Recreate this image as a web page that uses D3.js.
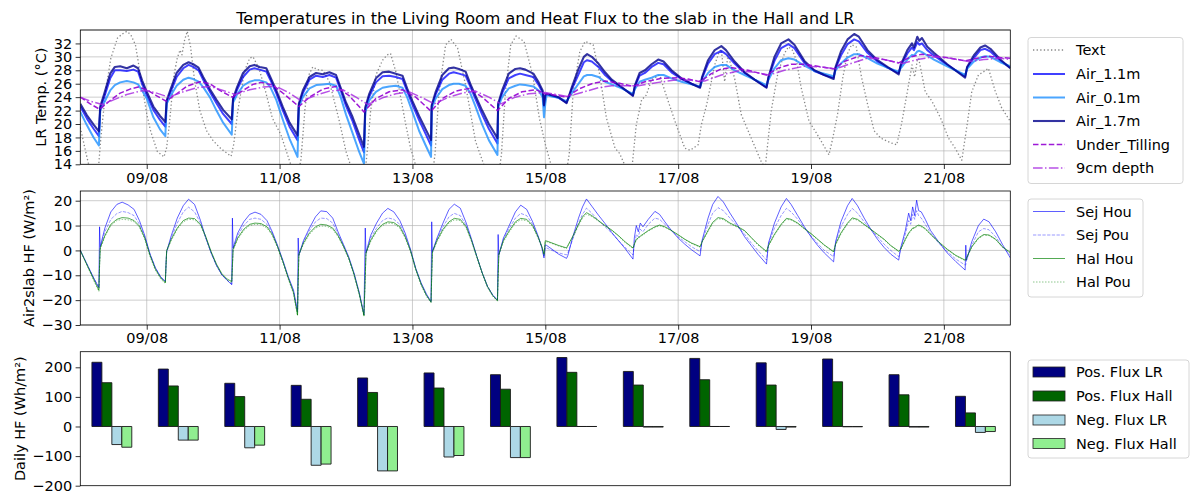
<!DOCTYPE html>
<html><head><meta charset="utf-8">
<script src="https://cdn.jsdelivr.net/npm/d3@7"></script>
<style>body{margin:0;background:#fff} svg text{font-family:"DejaVu Sans",sans-serif;fill:#000}</style>
</head><body><svg id="c" width="1191" height="493"></svg>
<script>
// ---------- DATA (time in days since 08/08 00:00) ----------
const xTickLabels = ["09/08","11/08","13/08","15/08","17/08","19/08","21/08"];
const tempTicks = [14,16,18,20,22,24,26,28,30,32];
const hfTicks = [-30,-20,-10,0,10,20];
const dailyTicks = [-200,-100,0,100,200];

const airT = [0,0.1,0.2,0.28,0.3,0.36,0.45,0.52,0.6,0.7,0.8,0.87,0.93,1,1.1,1.2,1.28,
1.3,1.36,1.45,1.55,1.63,1.7,1.78,1.85,1.95,2.05,2.15,2.28,
2.3,2.36,2.45,2.55,2.62,2.7,2.8,2.86,2.95,3.05,3.15,3.27,
3.29,3.35,3.45,3.55,3.65,3.75,3.85,3.92,4,4.1,4.2,4.27,
4.29,4.35,4.45,4.55,4.65,4.75,4.85,4.92,5,5.1,5.2,5.28,
5.29,5.35,5.45,5.55,5.62,5.7,5.8,5.87,5.95,6.05,6.15,6.28,
6.29,6.35,6.45,6.55,6.62,6.7,6.82,6.9,6.96,6.98,7,7.02,7.1,7.2,7.32,
7.4,7.5,7.58,7.63,7.7,7.8,7.9,8,8.15,8.32,
8.35,8.42,8.5,8.6,8.7,8.78,8.9,9.05,9.2,9.33,
9.36,9.45,9.55,9.65,9.72,9.85,10,10.15,10.33,
10.36,10.45,10.55,10.66,10.75,10.9,11.05,11.2,11.34,
11.37,11.45,11.55,11.65,11.72,11.85,12,12.15,12.32,
12.35,12.45,12.52,12.55,12.6,12.63,12.67,12.75,12.85,13.05,13.32,
13.35,13.45,13.55,13.62,13.7,13.85,14];
const air17 = [23.0,21.3,19.9,18.9,22.6,24.5,27.5,28.5,28.6,28.3,28.7,28.3,26.5,24.8,22.6,21.2,20.3,
23.5,25.2,27.6,28.8,29.2,28.9,28.4,27.0,25.2,23.6,22.1,20.7,
23.8,25.5,27.6,28.6,28.8,28.5,28.3,27.0,25.0,22.5,20.2,18.3,
23.0,25.0,27.0,27.6,27.4,27.7,27.3,25.4,23.2,21.0,18.4,16.6,
22.5,24.5,26.8,27.7,27.8,27.5,27.2,25.3,23.4,21.2,19.2,17.6,
22.8,24.8,27.3,28.3,28.4,28.2,27.8,26.0,24.2,22.0,20.0,17.9,
23.0,25.0,27.5,28.2,28.3,28.1,27.5,26.2,25.0,22.8,24.3,24.5,24.3,24.0,23.1,
25.5,28.2,30.0,30.4,30.0,29.0,27.7,26.6,25.5,24.2,
25.8,27.6,28.0,28.9,29.6,29.3,28.0,26.8,26.0,25.4,
27.0,29.5,31.0,31.6,31.0,29.3,27.7,26.6,25.4,
27.0,30.0,32.0,32.6,31.8,29.4,28.0,27.3,26.7,
28.5,30.8,32.6,33.4,33.0,31.0,29.5,28.5,27.4,
28.8,31.0,32.0,31.4,33.0,32.4,32.8,31.5,30.6,28.9,26.9,
28.5,30.2,31.4,31.7,31.2,29.6,28.3];
const air11 = [22.6,20.8,19.3,18.2,22.3,24.0,26.8,28.0,28.0,27.9,28.1,27.8,26.0,24.3,22.1,20.6,19.6,
23.3,24.8,27.0,28.3,28.8,28.5,28.0,26.6,24.8,23.1,21.5,20.0,
23.6,25.1,27.0,28.1,28.3,28.1,27.8,26.6,24.6,22.0,19.6,17.6,
22.8,24.6,26.6,27.2,27.0,27.3,26.9,25.0,22.7,20.4,17.6,15.8,
22.2,24.1,26.2,27.1,27.2,27.0,26.7,24.9,22.9,20.6,18.5,16.8,
22.6,24.4,26.6,27.5,27.7,27.5,27.2,25.6,23.7,21.4,19.3,17.1,
22.8,24.6,26.8,27.3,27.5,27.3,27.0,25.8,24.7,22.6,24.2,24.4,24.2,23.9,23.2,
25.2,27.4,29.2,29.5,29.3,28.5,27.3,26.4,25.4,24.3,
25.6,27.2,27.6,28.5,29.1,28.9,27.7,26.7,26.0,25.5,
26.8,29.0,30.4,30.9,30.4,29.0,27.6,26.6,25.5,
26.9,29.4,31.3,31.9,31.3,29.1,27.9,27.3,26.9,
28.3,30.2,31.9,32.6,32.3,30.6,29.3,28.4,27.6,
28.6,30.5,31.4,31.0,32.2,31.8,32.0,31.0,30.2,28.8,27.1,
28.4,29.8,31.0,31.2,30.8,29.4,28.4];
const air01 = [21.8,19.8,18.0,16.8,22.0,23.2,25.0,25.8,26.2,26.4,26.2,25.9,25.0,23.8,21.0,19.2,18.2,
23.0,24.2,25.7,26.6,26.9,26.7,26.3,25.5,24.0,22.0,20.2,18.4,
23.2,24.4,25.7,26.3,26.5,26.5,26.2,25.5,23.6,20.6,17.8,15.1,
22.5,24.0,25.3,25.8,25.9,26.0,25.7,24.0,21.4,18.6,15.8,14.1,
21.8,23.5,24.8,25.4,25.6,25.7,25.4,24.0,21.8,19.0,16.8,15.1,
22.3,23.8,25.2,25.8,26.0,26.0,25.7,24.6,22.6,19.9,17.6,15.4,
22.5,24.0,25.3,25.7,25.9,25.8,25.6,25.0,24.0,21.0,23.0,24.3,24.1,23.9,23.4,
24.6,26.0,27.1,27.3,27.3,27.0,26.3,25.9,25.3,24.5,
25.2,26.3,26.6,26.9,27.3,27.3,26.8,26.3,25.9,25.6,
26.3,27.6,28.5,28.8,28.8,28.0,27.3,26.6,25.8,
26.6,28.3,29.5,29.8,29.6,28.7,27.9,27.5,27.1,
28.0,29.0,29.9,30.4,30.4,29.8,29.0,28.4,27.8,
28.3,29.6,30.3,30.2,30.8,30.9,30.7,30.2,29.6,28.6,27.3,
28.2,29.3,29.9,30.1,30.0,29.2,28.6];

const textT = [0,0.06,0.12,0.2,0.27,0.31,0.38,0.46,0.56,0.63,0.7,0.76,0.83,0.93,1,1.06,1.16,1.26,1.3,1.34,
1.41,1.46,1.5,1.53,1.57,1.61,1.66,1.72,1.8,1.9,2,2.12,2.27,2.31,2.37,2.47,2.55,2.6,2.69,2.79,
2.89,3.02,3.12,3.2,3.27,3.32,3.38,3.44,3.5,3.57,3.65,3.75,3.9,4,4.08,4.2,4.28,4.33,4.37,4.45,
4.55,4.62,4.67,4.75,4.9,4.97,5.05,5.2,5.3,5.34,5.4,5.5,5.58,5.68,5.8,5.95,6.08,6.2,6.3,6.34,
6.4,6.48,6.56,6.68,6.81,6.91,7,7.09,7.2,7.32,7.36,7.42,7.52,7.6,7.72,7.82,7.92,8.05,8.12,8.2,
8.3,8.37,8.45,8.52,8.6,8.72,8.85,8.97,9.1,9.18,9.3,9.35,9.43,9.55,9.62,9.65,9.7,9.75,9.85,9.95,
10.1,10.25,10.31,10.4,10.5,10.6,10.66,10.72,10.78,10.85,10.97,11.06,11.15,11.27,11.33,11.4,11.48,11.55,11.61,11.68,
11.76,11.85,11.95,12.05,12.2,12.29,12.36,12.45,12.52,12.56,12.6,12.62,12.67,12.72,12.82,12.95,13.07,13.17,13.27,13.35,
13.42,13.52,13.6,13.67,13.77,13.87,14];
const textV = [19.5,16.8,14.2,12,13,18,24.8,29.8,32.8,33.4,33.8,33.3,31.8,25.8,21.5,18.9,15.9,15.1,16.5,19.9,
27.3,29.8,31,30.3,32.5,33.8,31.5,26.5,22,19,17.5,16.3,15.2,17,21.9,27.8,29.8,30,28.3,24.8,
20.9,18.4,15.4,13,12.5,14.5,22,27.3,28.5,28.1,28,26.3,20.4,15.9,13.5,11.5,12,17,21.9,27.3,
29.5,30.3,30.5,27.8,19.9,16.5,13.8,11.5,12.5,15.5,24.8,31.8,32.6,31.3,25.8,17.4,13.8,11.8,12.5,15.5,
24.8,31.8,33.1,32.3,27.3,20.9,17,13.8,12,13,15.5,24.8,30.8,32.3,31.8,27.3,20.9,16.4,15.6,13.8,
13,19.9,23.6,24.3,26.6,27.3,23.4,19.9,16.4,16.1,16.9,19.9,22.9,28.8,30.8,31.1,26.3,30.3,26.8,21.4,
17.9,14.4,13.5,21.9,27.5,30.5,31.5,31,29.5,25.5,20.4,19,17.5,15.4,18,21.5,27,30.5,31.8,31.5,
27,23,19,17.9,17.2,16.9,19.9,24.8,28.8,27,29.5,29.8,27.3,24.8,23.4,20.9,17.9,16.4,14.6,19.9,
24.8,27.3,27.8,28.3,25,22.4,20.4];

const utT = [0,0.15,0.29,0.45,0.6,0.75,0.87,1,1.15,1.29,1.45,1.6,1.8,1.95,2.1,2.29,2.45,2.6,2.72,2.9,
3.1,3.29,3.45,3.65,3.85,4.05,4.27,4.45,4.65,4.85,5.05,5.28,5.45,5.65,5.85,6.05,6.28,6.45,6.65,6.86,
7,7.15,7.32,7.5,7.7,7.9,8.1,8.32,8.5,8.75,9,9.15,9.33,9.5,9.65,9.8,10.05,10.33,10.5,10.7,
10.9,11.1,11.34,11.5,11.75,11.95,12.15,12.32,12.5,12.67,12.9,13.1,13.32,13.5,13.67,13.85,14];
const utV = [24,23,22.2,23.5,24.6,25.2,25.5,25.1,24.2,23.4,24.5,25.6,26.3,26,25,24,25,25.9,26.2,25.8,
24.2,22.6,24,25.2,25.6,24.2,21.8,23.8,24.8,25.1,24,21.9,23.8,24.9,25.3,24,22,23.8,24.8,25.1,
24.5,24.3,24,25.2,26,26.4,26.1,25.6,26.3,26.8,26.9,26.7,26.3,27.5,28.2,28.4,28,27.3,28.3,28.9,
28.9,28.6,28.2,29.3,30.2,29.9,29.5,29.1,30,30.4,30.1,29.8,29.4,29.8,30.1,29.9,29.8];

const d9T = [0,0.15,0.33,0.5,0.7,0.9,1,1.15,1.33,1.55,1.75,1.95,2.15,2.33,2.55,2.75,2.95,3.15,3.33,3.55,
3.75,3.95,4.15,4.33,4.55,4.75,4.95,5.15,5.33,5.55,5.75,5.95,6.15,6.33,6.55,6.75,7,7.33,7.55,7.8,
8,8.2,8.4,8.7,9,9.2,9.4,9.65,9.9,10.15,10.37,10.6,10.9,11.15,11.37,11.6,11.85,12.1,12.37,12.6,
12.85,13.1,13.37,13.6,13.85,14];
const d9V = [24,23.4,22.9,23.6,24.4,24.9,25,24.6,24,24.8,25.4,25.6,25,24.4,25.1,25.5,25.6,24.6,23.4,24.3,
24.9,25.1,24,22.9,23.9,24.5,24.8,23.9,23,24,24.6,24.9,24,23,24,24.5,24.7,24.1,24.7,25.4,
25.7,25.7,25.7,26.2,26.6,26.5,26.4,27.3,27.9,27.7,27.3,28,28.6,28.5,28.2,29,29.8,29.6,29,29.6,
30,29.8,29.3,29.6,29.8,29.6];

const hfT = [0,0.1,0.2,0.28,
0.29,0.3,0.37,0.46,0.55,0.63,0.72,0.81,0.89,0.97,1.05,1.13,1.21,1.28,
1.29,1.3,1.37,1.46,1.55,1.63,1.72,1.81,1.89,1.97,2.05,2.13,2.21,2.28,
2.29,2.3,2.37,2.46,2.55,2.63,2.72,2.81,2.89,2.97,3.05,3.13,3.21,3.27,
3.28,3.29,3.36,3.45,3.54,3.62,3.71,3.8,3.88,3.96,4.04,4.12,4.2,4.27,
4.29,4.3,4.37,4.46,4.55,4.63,4.72,4.81,4.89,4.97,5.05,5.13,5.21,5.28,
5.29,5.3,5.37,5.46,5.55,5.63,5.72,5.81,5.89,5.97,6.05,6.13,6.21,6.28,
6.29,6.3,6.37,6.46,6.55,6.63,6.72,6.81,6.89,6.95,6.98,7,7.02,
7.1,7.2,7.32,7.34,7.42,7.5,7.56,7.62,7.7,7.8,7.9,8,8.1,8.2,8.32,
8.34,8.37,8.4,8.43,8.47,8.55,8.65,8.72,8.8,8.9,9,9.1,9.2,9.33,
9.36,9.45,9.52,9.6,9.68,9.78,9.9,10,10.1,10.2,10.33,
10.36,10.45,10.55,10.63,10.7,10.8,10.9,11,11.1,11.2,11.34,
11.37,11.45,11.55,11.62,11.7,11.8,11.9,12,12.1,12.2,12.32,
12.35,12.42,12.47,12.5,12.53,12.56,12.59,12.62,12.66,12.72,12.8,12.92,13.05,13.18,13.32,
13.33,13.34,13.42,13.52,13.6,13.68,13.78,13.88,14];
const sejHou = [0,-5.5,-11,-15,
9.5,1.5,9,15.5,18.5,19.4,18.3,16.5,12,6,-1.5,-7,-10.6,-12.5,
-6,-0.5,6,13,18,20.6,18.5,12,5,-1,-6,-9.8,-12,-13.8,
13,1,7,11.5,14.5,15.4,14.5,12,7.5,2,-4,-10.5,-16,-24.5,
5,-2,4,9,13.5,15.9,15.6,13,7.5,2.5,-2.5,-9,-17,-25.8,
9,-1,6,11,15,16.9,15.5,12,7,0.5,-7.2,-13,-17.5,-20.6,
11.5,-0.5,5,11,16.5,18.6,17,11,4.5,-2.5,-9,-14.5,-18,-20,
6.4,-1.9,5,10.2,15.5,18.2,16.5,11.5,6,1,-3,2.3,2,
0.5,-1.5,-3.2,-2,6,13,17.5,20.7,17.8,14.2,10.8,7.2,4,0.8,-3.5,
5,10,7.5,11,9.5,12.5,15.7,14.5,11.5,8,5,2.5,0.3,-2.2,
4,13,18.5,21.7,19.5,15,10,5.5,2,-1.5,-5.5,
3,11,17.5,20.9,18.5,14,9.5,5.5,2,-1,-4.6,
3.5,11.5,18,20.9,18,13,8.5,4.5,1.2,-1.5,-3.9,
1,8,15,12,17.5,14,20.2,16,15.5,12.5,8,3.5,-1,-4.5,-7.9,
2.1,-4,3.5,10,12.6,11.5,7.5,2.5,-3];
const sejPou = [0,-5.5,-11,-15,
-5,1,7.5,12.5,14.8,15.7,15.2,14,10.5,5.5,-1.5,-7,-10.8,-12.5,
-6,-0.5,5,11,15.5,17.4,15.5,11,5,-1,-6,-9.8,-12,-13.5,
-6,0.5,6,10,12.5,13,12.5,10.5,7,1.5,-4.5,-11,-16.5,-25,
-12,-2,3.5,8,11.5,13,12.8,11,6.5,2,-3,-9.5,-17.5,-26,
-10,-1.5,5,9,12,13.1,12.5,10.5,6,0,-7.5,-13.5,-18,-20.8,
-10,-1,4.5,9.5,13.5,14.9,14,10,4,-2.5,-9,-14.5,-18,-20,
-10,-2,4.5,9,13,14.9,14,10.5,5.5,1,-2.5,1,1,
0,-1,-1.8,-1,5,11,14.5,17,15,12,9.5,7,4,1.2,-1.8,
2,6.5,5.5,8.5,7.5,10.5,13,12.5,10.5,8,5.5,3.5,1.5,-0.5,
3.5,10.5,15,17.2,16,13,9.5,6.5,3,0,-3.9,
2.5,9,14,16.9,15.5,12.5,9,5.8,2.8,0,-2.5,
3,9.5,14.5,16.9,15,11.5,8.5,5.5,2.5,0,-2.5,
0.5,6.5,12,10.5,14.5,12.5,16,14,13,10.5,7,3,-0.5,-3.5,-5.9,
-5.8,-4,2,7.5,8.8,8.3,5.5,1.5,-1.8];
const halHou = [0,-5.8,-11.5,-16,
-6,1,6,10.5,12.5,13.2,13,12,9.8,5,-2,-7.5,-11,-13,
-6,0,4.5,9,12,13,12.8,10.5,5.5,-0.5,-5.5,-9.3,-11.5,-12.5,
-6,0.5,5,8.5,10.5,11,10.8,9.5,6.5,1.5,-4.5,-11,-17,-26,
-12,-1.5,3,7,9.5,10.5,10.2,9,6,1.8,-3,-9.5,-17.5,-26.2,
-10,-1,4,8,10.5,11.5,11.2,9.5,5.5,0,-7.5,-13.5,-18,-20.8,
-10,-0.5,4,8.5,11.5,12.9,12.5,9.5,4,-2.5,-9,-14.5,-18.2,-20.2,
-10,-1.5,4,8,11.5,12.9,12.5,10,5.5,1.5,-1.5,3.9,3.8,
3,2,1,2,6,10.5,13.5,15.2,14,12,10,8.2,6,3.5,1,
2.5,4.5,5,5.8,6.5,8,9.5,10.2,9.5,8,6.3,4.5,3,1.5,
3.5,8,11.3,13.2,12.8,11,9.5,8,5.2,2.5,-0.4,
2,6.5,10.5,12.9,12.5,11,8.8,6.8,4.5,2.2,-0.5,
2.5,7,11,13.1,12.5,10.5,8.5,6.5,4.5,2,-0.3,
0.5,4.5,7,8,9,9.2,9.8,10.2,9.8,8.8,6.5,3.5,0.5,-2,-3.9,
-3.8,-3,1.5,5,6.4,6.2,4.5,1.5,-0.8];
const halPou = [0,-6,-12,-16.5,
-6.5,0.5,5.5,10,12,12.5,12.3,11.5,9.3,4.5,-2.5,-8,-11.5,-13.3,
-6.5,-0.5,4,8.5,11.5,12.5,12.3,10,5,-1,-6,-9.8,-12,-13,
-6.5,0,4.5,8,10,10.5,10.3,9,6,1,-5,-11.5,-17.5,-26.3,
-12.5,-2,2.5,6.5,9,9.8,9.7,8.5,5.5,1.5,-3.5,-10,-18,-26.5,
-10.5,-1.5,3.5,7.5,10,11,10.7,9,5,-0.5,-8,-14,-18.5,-21,
-10.5,-1,3.5,8,11,12.3,12,9,3.5,-3,-9.5,-15,-18.5,-20.4,
-10.5,-2,3.5,7.5,11,12.3,12,9.5,5,1,-2,3.5,3.5,
2.8,1.8,0.8,1.8,5.5,10,13,14.6,13.6,11.8,9.8,8,5.8,3.2,0.8,
2.3,4.2,4.8,5.5,6.2,7.8,9.2,9.9,9.3,7.9,6.2,4.4,2.8,1.3,
3.3,7.6,10.8,12.8,12.4,10.7,9.2,7.8,5,2.2,-0.7,
1.8,6.2,10.1,12.5,12.2,10.8,8.6,6.6,4.3,2,-0.7,
2.2,6.6,10.6,12.7,12.2,10.3,8.3,6.3,4.3,1.8,-0.5,
0.3,4.2,6.6,7.7,8.7,8.9,9.5,9.9,9.5,8.5,6.3,3.3,0.3,-2.2,-4.1,
-4,-3.2,1.2,4.7,6.1,6,4.3,1.3,-1];

const barDays = ["08/08","09/08","10/08","11/08","12/08","13/08","14/08","15/08","16/08","17/08","18/08","19/08","20/08","21/08"];
const posFluxLR   = [217,194,146,139,164,181,175,233,186,230,215,228,175,102];
const posFluxHall = [148,137,101,92,115,130,126,183,140,158,140,151,107,46];
const negFluxLR   = [-61,-46,-72,-131,-150,-103,-105,0,-2,0,-10,-1,-2,-20];
const negFluxHall = [-70,-46,-63,-127,-150,-98,-105,0,-2,0,-2,-1,-2,-17];

// ---------- SETUP ----------
const svg = d3.select("#c");
svg.append("rect").attr("width",1191).attr("height",493).attr("fill","#fff");
const parseD = s => d3.timeParse("%d/%m/%Y")(s + "/2023");
const start = parseD("08/08");
const toDate = t => new Date(start.getTime() + t * 864e5);
const L = 80.3, R = 1010.3;
const x = d3.scaleTime().domain([start, toDate(14)]).range([L, R]);
const P1 = {top:30, bot:164.3}, P2 = {top:191, bot:325}, P3 = {top:351.7, bot:485.7};
const y1 = d3.scaleLinear().domain([14,34]).range([P1.bot,P1.top]);
const y2 = d3.scaleLinear().domain([-30,23.9]).range([P2.bot,P2.top]);
const y3 = d3.scaleLinear().domain([-200,252.7]).range([P3.bot,P3.top]);
const FS = 14.5;
const tickDates = xTickLabels.map(parseD);
const fmt = d3.timeFormat("%d/%m");
const minus = d => (d < 0 ? "\u2212" + Math.abs(d) : "" + d);

const defs = svg.append("defs");
[["c1",P1],["c2",P2],["c3",P3]].forEach(([id,p]) => {
  defs.append("clipPath").attr("id",id).append("rect")
    .attr("x",L).attr("y",p.top).attr("width",R-L).attr("height",p.bot-p.top);
});

function grid(p, y, yt) {
  const g = svg.append("g").attr("stroke","#b0b0b0").attr("stroke-width",0.8).attr("stroke-opacity",0.8);
  yt.forEach(v => g.append("line").attr("x1",L).attr("x2",R).attr("y1",y(v)).attr("y2",y(v)));
  tickDates.forEach(d => g.append("line").attr("x1",x(d)).attr("x2",x(d)).attr("y1",p.top).attr("y2",p.bot));
}
function axes(p, y, yt, showX) {
  const ya = svg.append("g").attr("transform",`translate(${L},0)`)
    .call(d3.axisLeft(y).tickValues(yt).tickFormat(minus).tickSize(4.7).tickSizeOuter(0).tickPadding(3.5));
  ya.select(".domain").remove();
  ya.selectAll("text").attr("font-size",FS).attr("font-family","DejaVu Sans");
  ya.selectAll("line").attr("stroke","#000").attr("stroke-width",0.8);
  if (showX) {
    const xa = svg.append("g").attr("transform",`translate(0,${p.bot})`)
      .call(d3.axisBottom(x).tickValues(tickDates).tickFormat(fmt).tickSize(4.7).tickSizeOuter(0).tickPadding(3.5));
    xa.select(".domain").remove();
    xa.selectAll("text").attr("font-size",FS).attr("font-family","DejaVu Sans");
    xa.selectAll("line").attr("stroke","#000").attr("stroke-width",0.8);
  }
  svg.append("rect").attr("x",L).attr("y",p.top).attr("width",R-L).attr("height",p.bot-p.top)
    .attr("fill","none").attr("stroke","#000").attr("stroke-width",0.8);
}
function ylabel(txt, cx, p) {
  const cy = (p.top + p.bot) / 2;
  svg.append("text").attr("transform",`translate(${cx},${cy}) rotate(-90)`)
    .attr("text-anchor","middle").attr("dy","0.35em").attr("font-size",FS).text(txt);
}
function series(g, T, V, y, style) {
  const line = d3.line().x((d,i) => x(toDate(T[i]))).y(d => y(d));
  const n = Math.min(T.length, V.length);
  g.append("path").datum(V.slice(0,n)).attr("d", line).attr("fill","none")
    .attr("stroke",style.c).attr("stroke-width",style.w).attr("stroke-opacity",style.o)
    .attr("stroke-dasharray",style.dash || null).attr("stroke-linejoin","round");
}
function legend(x0, y0, w, h, items) {
  svg.append("rect").attr("x",x0).attr("y",y0).attr("width",w).attr("height",h).attr("rx",3)
    .attr("fill","#fff").attr("fill-opacity",0.8).attr("stroke","#cccccc").attr("stroke-width",0.8);
  items.forEach(it => {
    if (it.patch) {
      svg.append("rect").attr("x",1033).attr("y",it.y-5).attr("width",32).attr("height",10)
        .attr("fill",it.patch).attr("stroke","#222").attr("stroke-width",0.8);
    } else {
      svg.append("line").attr("x1",1033).attr("x2",1065).attr("y1",it.y).attr("y2",it.y)
        .attr("stroke",it.s.c).attr("stroke-width",it.s.w).attr("stroke-opacity",it.s.o)
        .attr("stroke-dasharray",it.s.dash || null);
    }
    svg.append("text").attr("x",1076).attr("y",it.y).attr("dy","0.36em").attr("font-size",FS).text(it.label);
  });
}

// ---------- PANEL 1 ----------
const S = {
  text:{c:"#808080",w:1.3,o:0.95,dash:"1.3,2.3"},
  a11:{c:"#0000ff",w:2,o:0.75},
  a01:{c:"#1e90ff",w:2,o:0.8},
  a17:{c:"#00008b",w:2.1,o:0.8},
  ut:{c:"#9400d3",w:1.5,o:0.9,dash:"5.5,2.4"},
  d9:{c:"#a526e0",w:1.5,o:0.8,dash:"9.6,2.4,1.5,2.4"},
  sh:{c:"#0000ff",w:0.9,o:0.7},
  sp:{c:"#0000ff",w:0.9,o:0.45,dash:"3.3,1.4"},
  hh:{c:"#008000",w:0.9,o:0.75},
  hp:{c:"#008000",w:0.9,o:0.5,dash:"1.5,1.5"}
};
grid(P1, y1, tempTicks.concat([34]));
const g1 = svg.append("g").attr("clip-path","url(#c1)");
series(g1, textT, textV, y1, S.text);
series(g1, airT, air11, y1, S.a11);
series(g1, airT, air01, y1, S.a01);
series(g1, airT, air17, y1, S.a17);
series(g1, utT, utV, y1, S.ut);
series(g1, d9T, d9V, y1, S.d9);
axes(P1, y1, tempTicks, true);
ylabel("LR Temp. (°C)", 41, P1);
svg.append("text").attr("x",(L+R)/2).attr("y",24).attr("text-anchor","middle").attr("font-size",16)
  .text("Temperatures in the Living Room and Heat Flux to the slab in the Hall and LR");
legend(1028, 37.5, 155, 146, [
  {label:"Text", y:50, s:S.text},
  {label:"Air_1.1m", y:74, s:S.a11},
  {label:"Air_0.1m", y:97.5, s:S.a01},
  {label:"Air_1.7m", y:121, s:S.a17},
  {label:"Under_Tilling", y:144.5, s:S.ut},
  {label:"9cm depth", y:168, s:S.d9}
]);

// ---------- PANEL 2 ----------
grid(P2, y2, hfTicks);
const g2 = svg.append("g").attr("clip-path","url(#c2)");
series(g2, hfT, sejHou, y2, S.sh);
series(g2, hfT, sejPou, y2, S.sp);
series(g2, hfT, halHou, y2, S.hh);
series(g2, hfT, halPou, y2, S.hp);
axes(P2, y2, hfTicks, true);
ylabel("Air2slab HF (W/m²)", 28.5, P2);
legend(1028, 199, 115, 98, [
  {label:"Sej Hou", y:211.5, s:S.sh},
  {label:"Sej Pou", y:235, s:S.sp},
  {label:"Hal Hou", y:258.5, s:S.hh},
  {label:"Hal Pou", y:282, s:S.hp}
]);

// ---------- PANEL 3 ----------
const g3 = svg.append("g").attr("clip-path","url(#c3)");
const barSeries = [
  {v:posFluxLR, c:"#000080", off:0.175},
  {v:posFluxHall, c:"#006400", off:0.325},
  {v:negFluxLR, c:"#add8e6", off:0.475},
  {v:negFluxHall, c:"#90ee90", off:0.625}
];
barSeries.forEach(bs => {
  barDays.forEach((lab, i) => {
    const d0 = parseD(lab);
    const xa = x(new Date(d0.getTime() + bs.off*864e5));
    const xb = x(new Date(d0.getTime() + (bs.off+0.15)*864e5));
    const yz = y3(0), yv = y3(bs.v[i]);
    g3.append("path").attr("d",`M${xa},${yz}H${xb}V${yv}H${xa}Z`)
      .attr("fill",bs.c).attr("stroke","#1a1a1a").attr("stroke-width",0.9);
  });
});
axes(P3, y3, dailyTicks, false);
ylabel("Daily HF (Wh/m²)", 20, P3);
legend(1028, 360, 161, 98, [
  {label:"Pos. Flux LR", y:372, patch:"#000080"},
  {label:"Pos. Flux Hall", y:396, patch:"#006400"},
  {label:"Neg. Flux LR", y:420, patch:"#add8e6"},
  {label:"Neg. Flux Hall", y:443.5, patch:"#90ee90"}
]);
</script></body></html>
